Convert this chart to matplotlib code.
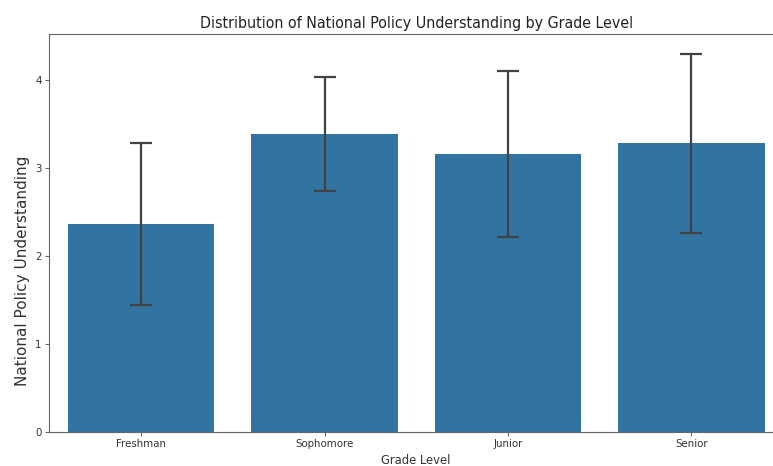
import matplotlib
matplotlib.use("Agg")
import matplotlib.pyplot as plt
from matplotlib import font_manager

# Mean understanding score and standard deviation per grade level
grades = ["Freshman", "Sophomore", "Junior", "Senior"]
mean_scores = [2.36, 3.39, 3.16, 3.28]
std_scores = [0.92, 0.65, 0.94, 1.02]
y_ticks = [0, 1, 2, 3, 4]

bar_color = "#3274a1"
err_color = "#424242"
spine_color = "#666666"

W, H = 773, 466
fig = plt.figure(figsize=(W / 100, H / 100), dpi=100)
fig.patch.set_facecolor("white")

# axes extends a little past the right figure edge
left, right, bottom, top = 49.4, 783.0, 431.7, 34.3
ax = fig.add_axes([left / W, (H - bottom) / H, (right - left) / W, (bottom - top) / H])

x = list(range(len(grades)))
ax.bar(x, mean_scores, width=0.8, color=bar_color, zorder=2)
ax.errorbar(x, mean_scores, yerr=std_scores, fmt="none", ecolor=err_color,
            elinewidth=1.6, capsize=7.6, capthick=1.6, zorder=3)

ax.set_xlim(-0.5, len(grades) - 0.5)
ax.set_ylim(0, 4.52)
ax.set_yticks(y_ticks)
ax.set_xticks(x)
ax.set_xticklabels(grades)

cond = font_manager.FontProperties(family="DejaVu Sans", stretch="condensed")
has_cond = "Condensed" in font_manager.findfont(cond, fallback_to_default=True)
stretch = "condensed" if has_cond else "normal"
k = 1.0 if has_cond else 0.9

for lab in ax.get_xticklabels() + ax.get_yticklabels():
    lab.set_fontsize(8.2 * k)
    lab.set_fontstretch(stretch)
    lab.set_color("#333333")

ax.tick_params(axis="both", length=3, width=0.8, pad=2.5, color=spine_color)

ax.set_title("Distribution of National Policy Understanding by Grade Level",
             fontsize=11.4 * k, fontstretch=stretch, pad=4.5, color="#222222")
ax.set_xlabel("Grade Level", fontsize=9.3 * k, fontstretch=stretch,
              labelpad=3, color="#333333")
ax.set_ylabel("National Policy Understanding", fontsize=11, color="#333333")
ax.yaxis.set_label_coords(-0.0258, 0.404)

for s in ax.spines.values():
    s.set_color(spine_color)
    s.set_linewidth(0.8)
ax.spines["right"].set_visible(False)

fig.savefig("out.png", dpi=100, facecolor="white")
